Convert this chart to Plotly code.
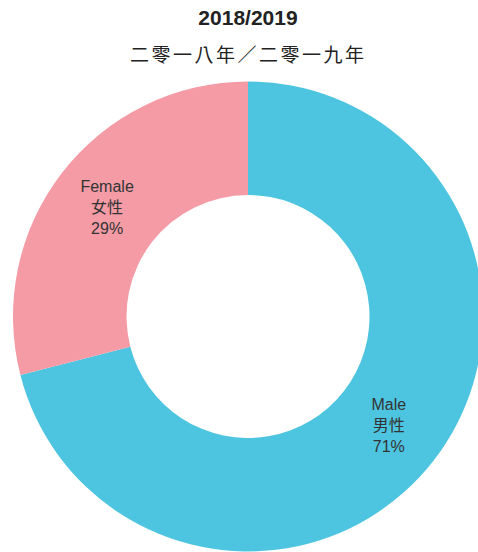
import plotly.graph_objects as go

labels_en = ["Male", "Female"]
labels_zh = ["男性", "女性"]
values = [71, 29]
colors = ["#4DC5E0", "#F49BA6"]
title_main = "2018/2019"
title_sub = "二零一八年／二零一九年"

W, H = 496, 552
T = 81
texts = [f"{e}<br>{z}<br>{v}%" for e, z, v in zip(labels_en, labels_zh, values)]

fig = go.Figure(go.Pie(
    labels=labels_en,
    values=values,
    text=texts,
    textinfo="text",
    textposition="inside",
    insidetextorientation="horizontal",
    hole=0.517,
    sort=False,
    direction="clockwise",
    rotation=0,
    marker=dict(colors=colors, line=dict(width=0)),
    textfont=dict(family="Liberation Sans, Noto Sans CJK TC, sans-serif", size=16, color="#333333"),
    showlegend=False,
))

fig.update_layout(
    width=W, height=H,
    margin=dict(l=13, r=13, t=T, b=0),
    paper_bgcolor="white",
    plot_bgcolor="white",
    title=dict(text=f"<b>{title_main}</b>", x=0.5, xanchor="center", y=1 - 18 / H, yanchor="middle",
               font=dict(family="Liberation Sans, Arial, sans-serif", size=21, color="#222222")),
    annotations=[dict(
        text=f'<span style="letter-spacing:2.5px">{title_sub}</span>',
        xref="paper", yref="paper", x=0.5, y=(H - 53) / (H - T), xanchor="center", yanchor="middle",
        showarrow=False,
        font=dict(family="Noto Sans CJK TC, sans-serif", size=19, color="#222222"),
    )],
)

fig.write_html("out.html", config={"displayModeBar": False},
               post_script="document.body.style.margin='0';document.body.style.overflow='hidden';document.documentElement.style.overflow='hidden';")
